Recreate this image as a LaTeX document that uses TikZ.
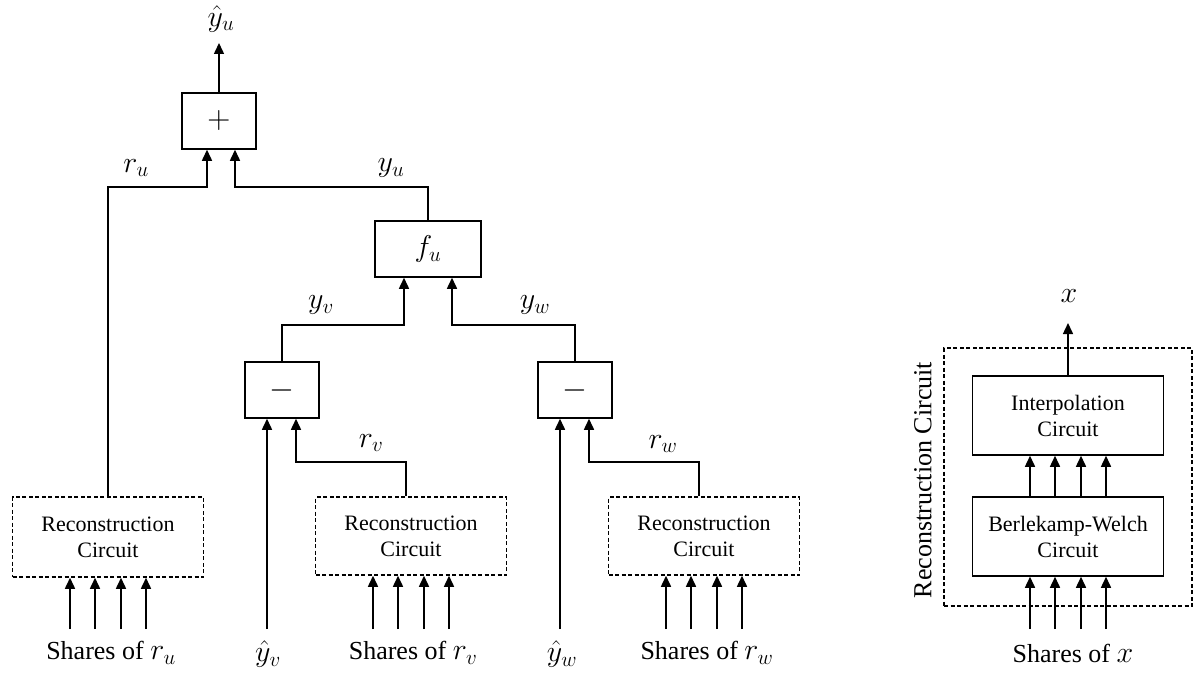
\RequirePackage{fix-cm}
\documentclass[tikz,border=0pt]{standalone}
\usepackage{fontspec}
\setmainfont{Liberation Serif}
\usetikzlibrary{arrows.meta}
\newcommand\mth[1]{{\fontsize{30}{34}\selectfont$#1$}}
\begin{document}
\begin{tikzpicture}[x=1pt,y=-1pt, line width=1.5pt,
 op/.style={draw, minimum width=74pt, minimum height=56pt, inner sep=0pt, font=\fontsize{32}{36}\selectfont},
 rec/.style={draw, dash pattern=on 4pt off 2.5pt, minimum width=191pt, minimum height=80pt, align=center, inner sep=0pt, font=\fontsize{22}{26}\selectfont},
 blk/.style={draw, minimum width=191pt, minimum height=79pt, align=center, inner sep=0pt, font=\fontsize{22}{26}\selectfont},
 lab/.style={inner sep=0pt, font=\fontsize{26}{31}\selectfont},
 arr/.style={-{Triangle[length=11pt,width=10pt]}},
]
\useasboundingbox (0,0) rectangle (1201,674);
% levels
\coordinate (L1) at (0,187);
\coordinate (L2) at (0,325);
\coordinate (L3) at (0,462);
\coordinate (Lin) at (0,629);
% boxes
\node[op] (plus) at (219,121) {$+$};
\node[op, minimum width=106pt] (fu) at (428,249) {\mth{f_u}};
\node[op] (minusv) at (282,390) {$-$};
\node[op] (minusw) at (575,390) {$-$};
\node[rec] (recu) at (108,537) {Reconstruction\\Circuit};
\node[rec, minimum height=78pt] (recv) at (411,536) {Reconstruction\\Circuit};
\node[rec, minimum height=78pt] (recw) at (704,536) {Reconstruction\\Circuit};
% labels
\node[lab] (yhu) at (221,19) {\mth{\hat{y}_u}};
\node[lab] (ru) at (136,168) {\mth{r_u}};
\node[lab] (yu) at (391,168) {\mth{y_u}};
\node[lab] (yv) at (321,305) {\mth{y_v}};
\node[lab] (yw) at (535,305) {\mth{y_w}};
\node[lab] (rv) at (371,443) {\mth{r_v}};
\node[lab] (rw) at (663,444) {\mth{r_w}};
\node[lab] (yhv) at (268,654) {\mth{\hat{y}_v}};
\node[lab] (yhw) at (562,654) {\mth{\hat{y}_w}};
\node[lab] (shu) at (111,653) {Shares of \mth{r_u}};
\node[lab] (shv) at (413,653) {Shares of \mth{r_v}};
\node[lab] (shw) at (707,653) {Shares of \mth{r_w}};
% connectors
\coordinate (yhutop) at (219,43);
\draw[arr] (plus.north) -- (yhutop);
\draw[arr] (recu.north) -- (recu.north |- L1) -| ([xshift=-12pt]plus.south);
\draw[arr] (fu.north) -- (fu.north |- L1) -| ([xshift=16pt]plus.south);
\draw[arr] (minusv.north) -- (minusv.north |- L2) -| ([xshift=-24pt]fu.south);
\draw[arr] (minusw.north) -- (minusw.north |- L2) -| ([xshift=24pt]fu.south);
\coordinate (rvo) at ([xshift=-5pt]recv.north);
\coordinate (rwo) at ([xshift=-5pt]recw.north);
\draw[arr] (rvo) -- (rvo |- L3) -| ([xshift=14pt]minusv.south);
\draw[arr] (rwo) -- (rwo |- L3) -| ([xshift=14pt]minusw.south);
\coordinate (yvin) at (267,629);
\coordinate (ywin) at (560,629);
\draw[arr] (yvin) -- (yvin |- minusv.south);
\draw[arr] (ywin) -- (ywin |- minusw.south);
\foreach \b in {recu,recv,recw}{
  \foreach \d in {-38,-13,13,38}{
    \path ([xshift=\d pt]\b.south) coordinate (t);
    \draw[arr] (t |- Lin) -- (t);
  }
}
% right panel
\node[draw, dash pattern=on 4pt off 2.5pt, minimum width=248pt, minimum height=258pt, inner sep=0pt] (outer) at (1068,477) {};
\node[blk] (interp) at (1068,415.5) {Interpolation\\Circuit};
\node[blk] (bw) at (1068,536.5) {Berlekamp-Welch\\Circuit};
\node[lab, rotate=90] (reclab) at (923,480) {Reconstruction Circuit};
\node[lab] (xl) at (1069,296) {\mth{x}};
\node[lab] (shx) at (1073,653) {Shares of \mth{x}};
\coordinate (xtop) at (1068,323);
\draw[arr] (interp.north) -- (xtop);
\foreach \d in {-38,-13,13,38}{
  \path ([xshift=\d pt]bw.north) coordinate (s);
  \path ([xshift=\d pt]interp.south) coordinate (e);
  \draw[arr] (s) -- (e);
  \path ([xshift=\d pt]bw.south) coordinate (t);
  \draw[arr] (t |- Lin) -- (t);
}
\end{tikzpicture}
\end{document}
